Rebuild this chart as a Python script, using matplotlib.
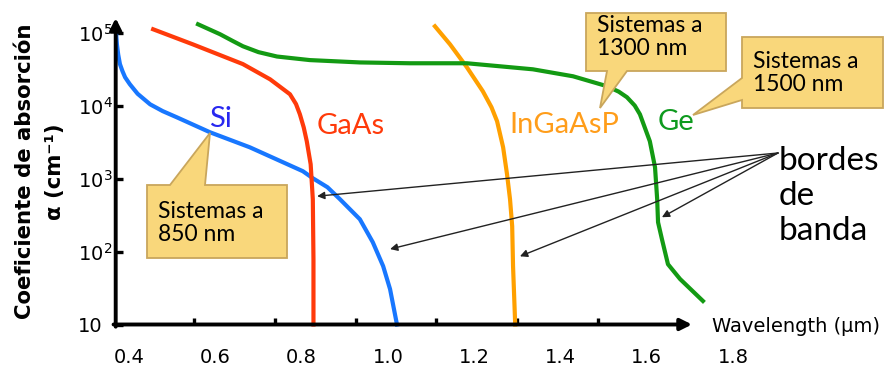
""" Absorption coefficient vs wavelength for common photodetector materials """

import numpy as np
import matplotlib.pyplot as plt
from matplotlib.patches import Polygon
from matplotlib.ticker import NullLocator
from matplotlib.transforms import Affine2D

# Curves: wavelength (um) and absorption coefficient (1/cm)
si_wl = [0.370, 0.371, 0.372, 0.375, 0.379, 0.385, 0.391, 0.402, 0.420, 0.449, 0.478,
         0.511, 0.588, 0.680, 0.803, 0.826, 0.860, 0.889, 0.935, 0.965, 0.989, 1.005, 1.021]
si_alpha = [1.0e5, 8.3e4, 6.9e4, 5.0e4, 3.7e4, 2.95e4, 2.44e4, 1.96e4, 1.45e4, 1.04e4, 8.4e3,
            6.9e3, 4.3e3, 2.68e3, 1.26e3, 1.01e3, 760, 520, 277, 134, 63, 30.5, 10]

gaas_wl = [0.456, 0.548, 0.664, 0.727, 0.773, 0.787, 0.796, 0.805, 0.812, 0.821, 0.826,
           0.8275, 0.8275]
gaas_alpha = [1.11e5, 6.9e4, 3.7e4, 2.29e4, 1.43e4, 1.05e4, 7.6e3, 5.0e3, 3.24e3, 1.57e3, 520,
              78, 10]

ingaasp_wl = [1.109, 1.144, 1.183, 1.220, 1.240, 1.253, 1.267, 1.276, 1.283, 1.288, 1.290, 1.295]
ingaasp_alpha = [1.22e5, 6.9e4, 3.35e4, 1.57e4, 9.5e3, 6.1e3, 2.68e3, 1.15e3, 520, 222, 63, 10]

ge_wl = [0.560, 0.611, 0.640, 0.664, 0.700, 0.743, 0.819, 0.935, 1.051, 1.183, 1.336, 1.429,
         1.508, 1.535, 1.554, 1.572, 1.584, 1.607, 1.619, 1.624, 1.626, 1.635, 1.649, 1.677,
         1.730]
ge_alpha = [1.30e5, 9.5e4, 7.7e4, 6.5e4, 5.4e4, 4.7e4, 4.2e4, 3.9e4, 3.8e4, 3.8e4, 3.14e4,
            2.52e4, 1.84e4, 1.55e4, 1.30e4, 1.0e4, 7.6e3, 3.24e3, 1.43e3, 520, 252, 148, 67,
            42, 21]

x_labels = ['0.4', '0.6', '0.8', '1.0', '1.2', '1.4', '1.6', '1.8']
x_label_pos = [0.4, 0.6, 0.8, 1.0, 1.2, 1.4, 1.6, 1.8]
x_tick_marks = [0.551, 0.738, 0.926, 1.111, 1.299, 1.487]
y_ticks = [10, 1e2, 1e3, 1e4, 1e5]
y_labels = ['10', '$10^2$', '$10^3$', '$10^4$', '$10^5$']

# where the "bordes de banda" arrows land
edge_wl = [0.836, 1.005, 1.306, 1.635]
edge_alpha = [573, 108, 86, 295]

W, H = 885, 366
fig = plt.figure(figsize=(W / 100, H / 100), dpi=100)
ax = fig.add_axes([115.7 / W, 1 - 324.5 / H, (754.7 - 115.7) / W, (324.5 - 18) / H])
# pixel coordinates of the picture (origin top-left)
pix = Affine2D().scale(1 / W, -1 / H).translate(0, 1) + fig.transFigure

xmin, xmax = 0.3692, 1.85
x_end = 1.7047
ax.set_yscale('log')
ax.set_xlim(xmin, xmax)
ax.set_ylim(10, 10**5.2)
for s in ax.spines.values():
    s.set_visible(False)

c_si, c_gaas, c_ingaasp, c_ge = '#1877ff', '#ff3a0a', '#ffa000', '#139a13'
for xs, ys, c in [(si_wl, si_alpha, c_si), (gaas_wl, gaas_alpha, c_gaas),
                  (ingaasp_wl, ingaasp_alpha, c_ingaasp), (ge_wl, ge_alpha, c_ge)]:
    ax.plot(xs, ys, color=c, lw=3.0, solid_joinstyle='round', clip_on=False, zorder=3)

# axes drawn as arrows
arrow_kw = dict(arrowstyle='-|>', lw=2.8, color='k', shrinkA=0, shrinkB=0, mutation_scale=17)
ax.annotate('', xy=(x_end, 10), xytext=(xmin - 0.005, 10), arrowprops=arrow_kw, zorder=5)
ax.annotate('', xy=(xmin, 10**5.2), xytext=(xmin, 10**0.97), arrowprops=arrow_kw, zorder=5)

ax.set_xticks(x_label_pos)
ax.set_xticklabels(x_labels)
ax.set_xticks(x_tick_marks, minor=True)
ax.tick_params(axis='x', which='major', length=0, pad=17, labelsize=14)
ax.tick_params(axis='x', which='minor', length=5, width=2.4, direction='in')
ax.set_yticks(y_ticks)
ax.set_yticklabels(y_labels)
ax.yaxis.set_minor_locator(NullLocator())
ax.tick_params(axis='y', length=5, width=2.4, direction='in', pad=27.5, labelsize=14)
for lbl in ax.get_yticklabels():
    lbl.set_horizontalalignment('left')

fig.text(25, 171, 'Coeficiente de absorción', transform=pix, rotation=90,
         ha='center', va='center', fontsize=15.3, fontweight='bold')
fig.text(55, 172, 'α (cm⁻¹)', transform=pix, rotation=90,
         ha='center', va='center', fontsize=15.3, fontweight='bold')
fig.text(712, 327, 'Wavelength (μm)', transform=pix, ha='left', va='center', fontsize=14)

# material labels
lab_kw = dict(ha='center', va='center', fontsize=21, family='Lato')
ax.text(0.611, 6.5e3, 'Si', color='#2828f0', **lab_kw)
ax.text(0.914, 5.2e3, 'GaAs', color='#ff3a0a', **lab_kw)
ax.text(1.408, 5.5e3, 'InGaAsP', color='#ff9d1a', **lab_kw)
ax.text(1.668, 5.9e3, 'Ge', color='#0e9a1e', **lab_kw)

# callouts
box_fc, box_ec = '#f9d77b', '#c9a65c'
callouts = [
    ([(147, 185), (170, 185), (210, 133), (205, 185), (287, 185), (287, 258), (147, 258)],
     (158, 223), 'Sistemas a\n850 nm'),
    ([(586, 13), (726, 13), (726, 71), (627, 71), (600, 108), (607, 71), (586, 71)],
     (597, 37), 'Sistemas a\n1300 nm'),
    ([(742, 37), (883, 37), (883, 108), (742, 108), (742, 100), (693, 115), (742, 78)],
     (753, 73), 'Sistemas a\n1500 nm'),
]
for verts, txy, txt in callouts:
    poly = Polygon(verts, closed=True, transform=pix, fc=box_fc, ec=box_ec, lw=1.3, zorder=6)
    fig.add_artist(poly)
    t = fig.text(txy[0], txy[1], txt, transform=pix, ha='left', va='center',
                 fontsize=16.5, family='Lato', linespacing=1.15, zorder=7)
    t.set_clip_path(poly)

# band edge arrows
for xw, ya in zip(edge_wl, edge_alpha):
    ax.annotate('', xy=(xw, ya), xytext=(778, 153), textcoords=pix,
                arrowprops=dict(arrowstyle='-|>', lw=1.0, color='#222222',
                                shrinkA=0, shrinkB=0, mutation_scale=11), zorder=4)
fig.text(779, 196, 'bordes\nde\nbanda', transform=pix, ha='left', va='center',
         fontsize=24, family='Lato', linespacing=1.2)

fig.savefig('out.png', dpi=100)
